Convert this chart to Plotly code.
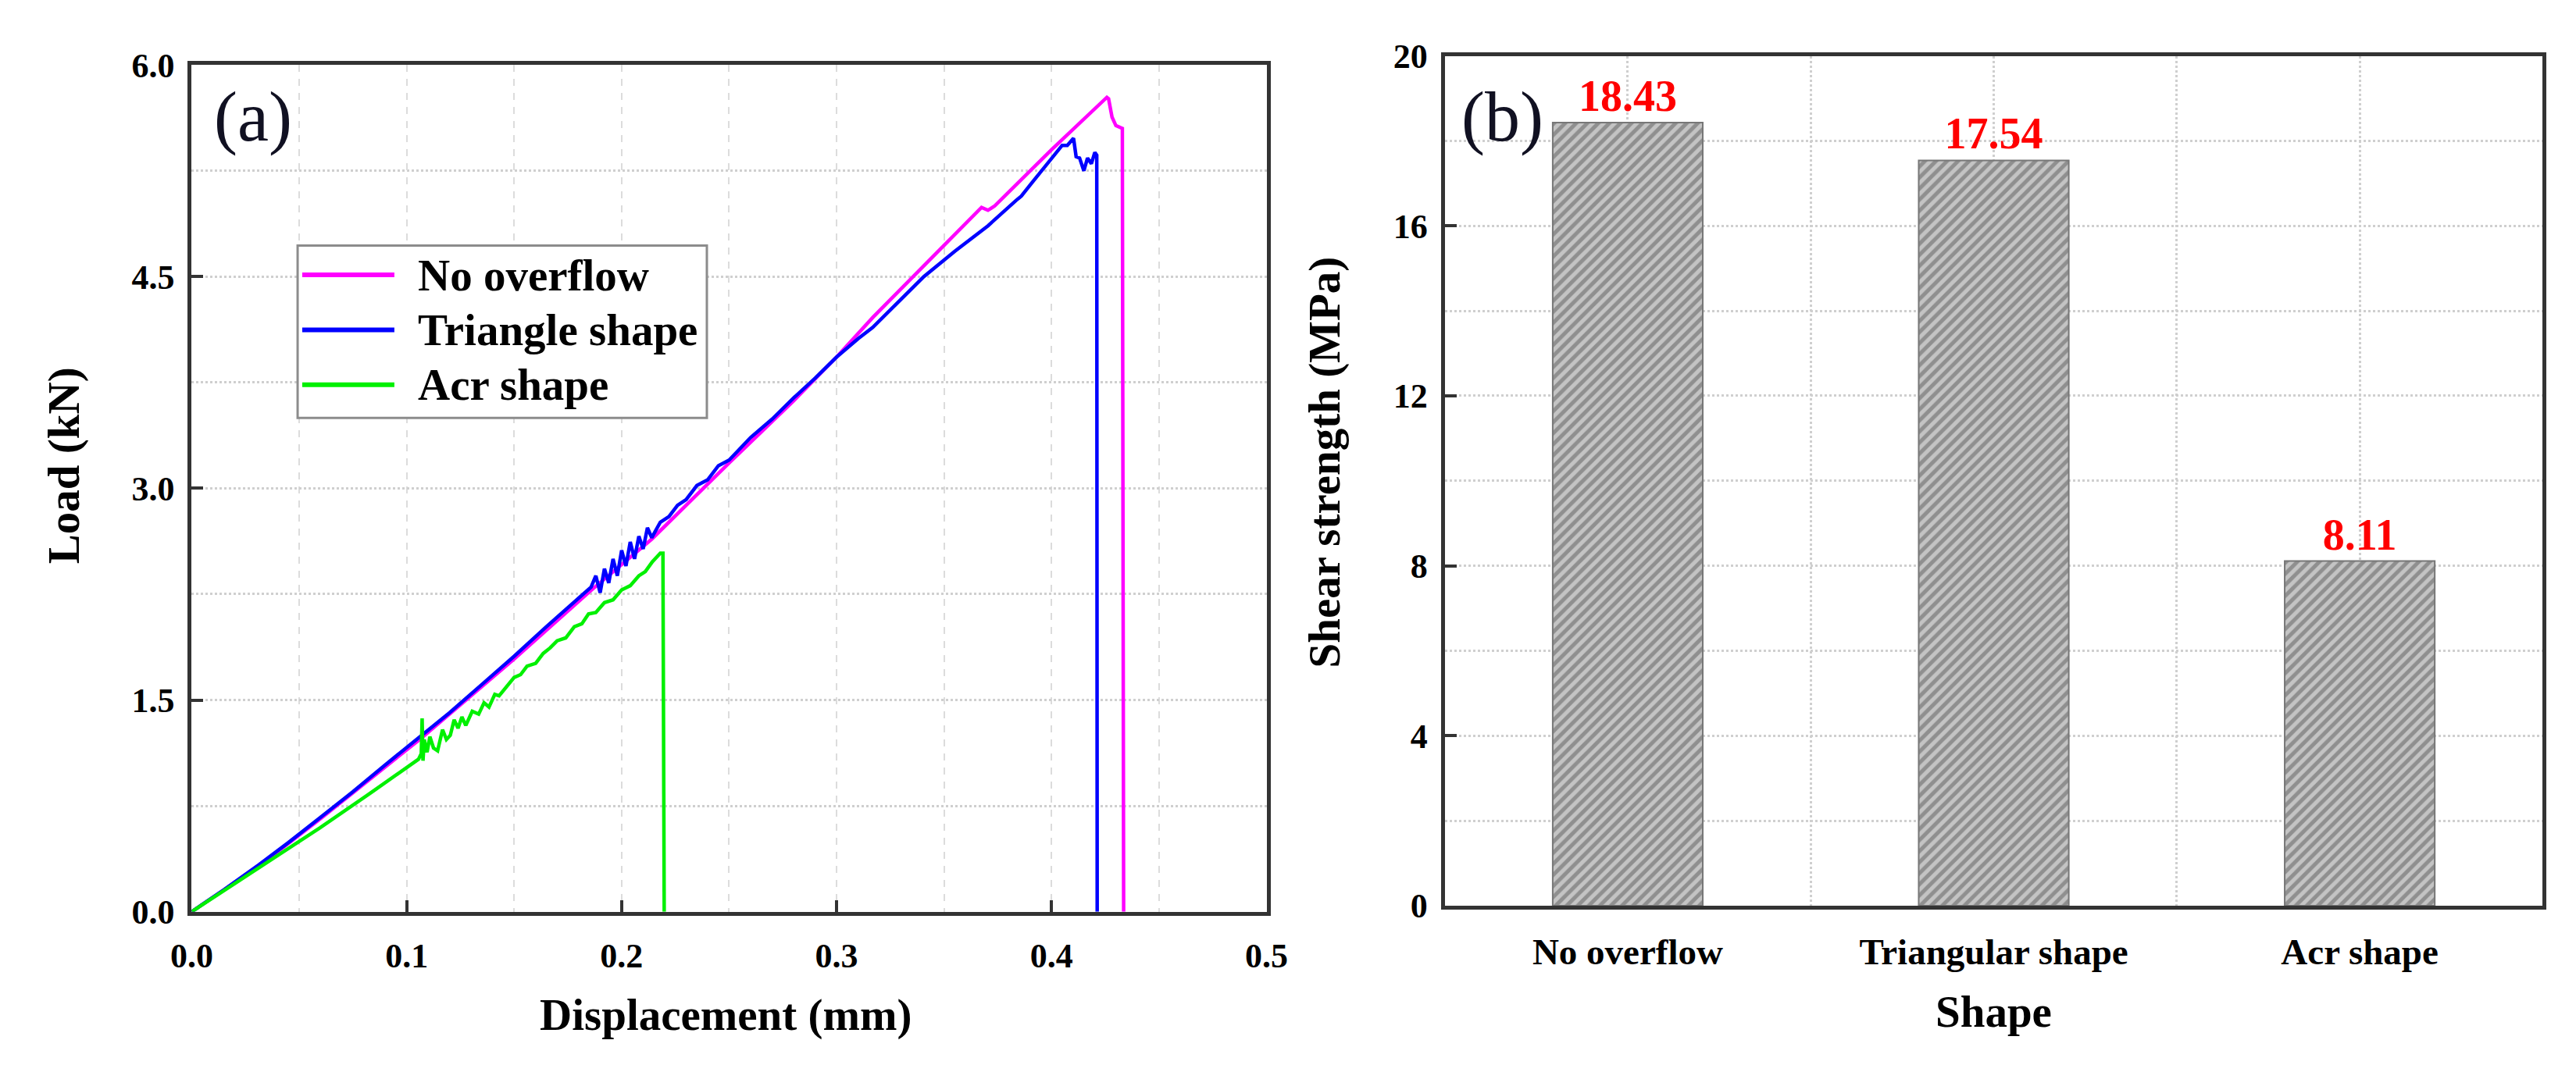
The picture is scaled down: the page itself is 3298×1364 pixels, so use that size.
import plotly.graph_objects as go

# ---- data ----
# (a) load-displacement curves
nov_disp = [0, 0.031, 0.0596, 0.106, 0.15, 0.186, 0.214, 0.25, 0.28, 0.30, 0.3168, 0.34,
            0.3674, 0.3704, 0.3735, 0.40, 0.4257, 0.4265, 0.4281, 0.4299, 0.4329, 0.4335]
nov_load = [0, 0.32, 0.655, 1.22, 1.79, 2.28, 2.64, 3.18, 3.62, 3.93, 4.21, 4.57,
            4.99, 4.97, 5.00, 5.40, 5.77, 5.76, 5.63, 5.57, 5.55, 0]

tri_disp = [0, 0.015, 0.031, 0.045, 0.0596, 0.075, 0.09, 0.106, 0.12, 0.135, 0.15, 0.165, 0.1858,
            0.188, 0.190, 0.192, 0.194, 0.196, 0.198, 0.200, 0.202, 0.204, 0.206, 0.208, 0.210,
            0.212, 0.214, 0.218, 0.222, 0.226, 0.23, 0.235, 0.24, 0.245, 0.25, 0.26, 0.27, 0.28,
            0.29, 0.30, 0.31, 0.3168, 0.3406, 0.355, 0.3704, 0.3835, 0.3859, 0.3906, 0.398,
            0.4049, 0.4073, 0.4102, 0.4114, 0.413, 0.415, 0.4167, 0.4185, 0.4201, 0.421, 0.4212]
tri_load = [0, 0.155, 0.33, 0.49, 0.665, 0.85, 1.04, 1.234, 1.41, 1.61, 1.81, 2.02, 2.30,
            2.38, 2.26, 2.43, 2.33, 2.50, 2.38, 2.56, 2.45, 2.62, 2.50, 2.66, 2.57,
            2.72, 2.65, 2.76, 2.80, 2.88, 2.92, 3.02, 3.06, 3.16, 3.20, 3.36, 3.49, 3.64,
            3.78, 3.93, 4.06, 4.14, 4.50, 4.68, 4.86, 5.04, 5.07, 5.16, 5.30,
            5.43, 5.43, 5.48, 5.35, 5.34, 5.25, 5.34, 5.30, 5.38, 5.36, 0]

acr_disp = [0, 0.03, 0.0596, 0.085, 0.1055, 0.1068, 0.1072, 0.1076, 0.1082, 0.1095, 0.1108,
            0.1125, 0.1144, 0.1167, 0.1185, 0.1203, 0.1221, 0.1239, 0.1257, 0.1275, 0.1305,
            0.1335, 0.136, 0.1383, 0.141, 0.143, 0.146, 0.150, 0.153, 0.156, 0.160, 0.1635,
            0.1668, 0.170, 0.174, 0.178, 0.1815, 0.1846, 0.188, 0.192, 0.196, 0.200, 0.204,
            0.208, 0.211, 0.2143, 0.218, 0.2192, 0.2198]
acr_load = [0, 0.30, 0.594, 0.86, 1.08, 1.12, 1.37, 1.07, 1.22, 1.13, 1.24,
            1.16, 1.14, 1.29, 1.22, 1.25, 1.36, 1.30, 1.38, 1.32, 1.42,
            1.40, 1.48, 1.45, 1.54, 1.53, 1.59, 1.66, 1.68, 1.74, 1.76, 1.83,
            1.87, 1.92, 1.94, 2.02, 2.04, 2.11, 2.12, 2.19, 2.21, 2.28, 2.31,
            2.38, 2.41, 2.48, 2.54, 2.54, 0]

series_names = ["No overflow", "Triangle shape", "Acr shape"]
series_colors = ["#ff00ff", "#0000ff", "#00f000"]

# (b) shear strength
shapes = ["No overflow", "Triangular shape", "Acr shape"]
strength = [18.43, 17.54, 8.11]

# ---- layout helpers ----
W, H = 3298, 1364
FONT = "Liberation Serif"
AX = "#333333"


def pp(x, y):
    # pixel position -> paper fraction
    return x / W, 1 - y / H


fig = go.Figure()

for xs, ys, name, col in zip([nov_disp, tri_disp, acr_disp], [nov_load, tri_load, acr_load],
                             series_names, series_colors):
    fig.add_trace(go.Scatter(x=xs, y=ys, mode="lines", name=name,
                             line=dict(color=col, width=4.5), showlegend=False,
                             xaxis="x", yaxis="y"))

fig.add_trace(go.Bar(x=list(range(len(shapes))), y=strength, width=0.41,
                     text=["%.2f" % v for v in strength], textposition="outside",
                     textfont=dict(family=FONT, size=56, color="#ff0000", weight="bold"),
                     cliponaxis=False,
                     marker=dict(color="#a8a8a8",
                                 line=dict(color="#777777", width=2),
                                 pattern=dict(shape="/", fgcolor="#5a5a5a", bgcolor="#c4c4c4",
                                              size=10, solidity=0.5)),
                     showlegend=False, xaxis="x2", yaxis="y2"))

tickfont = dict(family=FONT, size=44, color="black", weight="bold")
common = dict(showline=True, mirror=True, linecolor=AX, linewidth=5,
              ticks="inside", ticklen=15, tickwidth=4, tickcolor=AX,
              tickfont=tickfont, zeroline=False, ticklabelstandoff=8)

fig.update_layout(
    width=W, height=H,
    margin=dict(l=0, r=0, t=0, b=0),
    paper_bgcolor="white", plot_bgcolor="white",
    showlegend=False,
    xaxis=dict(domain=[213 / W, 1613 / W], anchor="y", range=[0, 0.5], dtick=0.1,
               tickformat=".1f", showgrid=True, gridcolor="#dcdcdc", gridwidth=2, griddash="dash",
               minor=dict(dtick=0.05, showgrid=True, gridcolor="#dcdcdc", gridwidth=2,
                          griddash="dash"),
               **{**common, "ticklabelstandoff": 14}),
    yaxis=dict(domain=[1 - 1178 / H, 1 - 53 / H], anchor="x", range=[0, 6], dtick=1.5,
               tickformat=".1f", showgrid=True, gridcolor="#cfcfcf", gridwidth=3, griddash="dot",
               minor=dict(dtick=0.75, showgrid=True, gridcolor="#cfcfcf", gridwidth=3,
                          griddash="dot"),
               **common),
    xaxis2=dict(domain=[1845 / W, 3275 / W], anchor="y2", range=[-0.5, 2.5],
                tickmode="array", tickvals=list(range(len(shapes))), ticktext=shapes,
                showgrid=True, gridcolor="#cfcfcf", gridwidth=3, griddash="dot",
                minor=dict(tickmode="array", tickvals=[0.5, 1.5], showgrid=True,
                           gridcolor="#cfcfcf", gridwidth=3, griddash="dot"),
                **{**common, "ticks": "", "ticklabelstandoff": 14,
                   "tickfont": dict(family=FONT, size=47, color="black", weight="bold")}),
    yaxis2=dict(domain=[1 - 1170 / H, 1 - 41 / H], anchor="x2", range=[0, 20], dtick=4,
                showgrid=True, gridcolor="#cfcfcf", gridwidth=3, griddash="dot",
                minor=dict(dtick=2, showgrid=True, gridcolor="#cfcfcf", gridwidth=3,
                           griddash="dot"),
                **common),
)

# axis titles and panel labels
title_font = dict(family=FONT, size=57, color="black", weight="bold")
labels = [
    ("Load (kN)", 47, 585, -90, title_font),
    ("Displacement (mm)", 908, 1315, 0, title_font),
    ("Shear strength (MPa)", 1689, 581, -90, title_font),
    ("Shape", 2560, 1311, 0, title_font),
    ("(a)", 293, 122, 0, dict(family=FONT, size=90, color="#111122")),
    ("(b)", 1920, 122, 0, dict(family=FONT, size=90, color="#111122")),
]
for text, px_, py_, ang, fnt in labels:
    ax_, ay_ = pp(px_, py_)
    fig.add_annotation(text=text, x=ax_, y=ay_, xref="paper", yref="paper",
                       showarrow=False, textangle=ang, font=fnt,
                       xanchor="center", yanchor="middle")

# legend box for panel (a)
x0, y0 = pp(351, 293)
x1, y1 = pp(884, 522)
fig.add_shape(type="rect", xref="paper", yref="paper", x0=x0, y0=y0, x1=x1, y1=y1,
              line=dict(color="#8c8c8c", width=3), fillcolor="white", layer="above")
for i, (name, col) in enumerate(zip(series_names, series_colors)):
    row_y = 332 + i * 73
    lx0, ly = pp(357, row_y)
    lx1, _ = pp(477, row_y)
    fig.add_shape(type="line", xref="paper", yref="paper", x0=lx0, x1=lx1, y0=ly, y1=ly,
                  line=dict(color=col, width=6), layer="above")
    tx, ty = pp(506, row_y)
    fig.add_annotation(text=name, x=tx, y=ty, xref="paper", yref="paper", showarrow=False,
                       xanchor="left", yanchor="middle", font=title_font)

fig.write_html("out.html")
